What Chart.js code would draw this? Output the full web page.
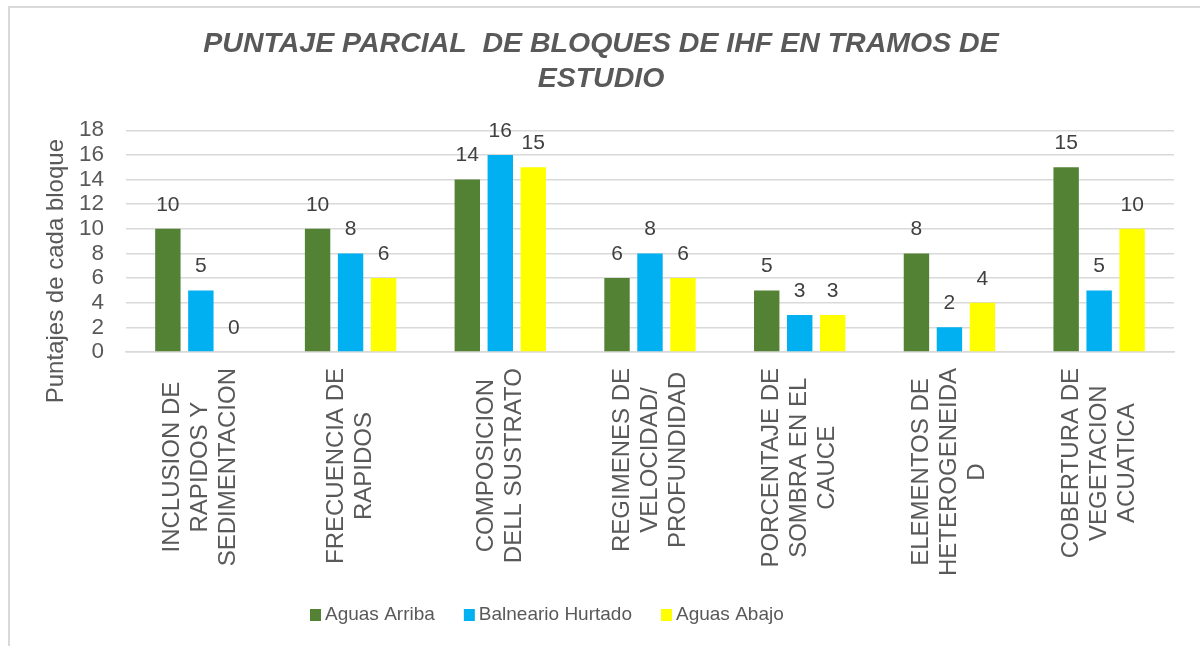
<!DOCTYPE html>
<html><head><meta charset="utf-8">
<script src="https://cdn.jsdelivr.net/npm/chart.js@4.4.1/dist/chart.umd.min.js"></script>
<style>
html,body{margin:0;padding:0;background:#fff;overflow:hidden;width:1200px;height:646px;}
#frame{position:absolute;left:8px;top:6px;width:1300px;height:800px;border:2px solid #d9d9d9;box-sizing:border-box;}
#wrap{position:absolute;left:0;top:0;width:1200px;height:646px;}
</style></head><body>
<div id="frame"></div>
<div id="wrap"><canvas id="c" width="1200" height="646"></canvas></div>
<script>
const categories = [
  ["INCLUSION DE", "RAPIDOS Y", "SEDIMENTACION"],
  ["FRECUENCIA DE", "RAPIDOS"],
  ["COMPOSICION", "DELL SUSTRATO"],
  ["REGIMENES DE", "VELOCIDAD/", "PROFUNDIDAD"],
  ["PORCENTAJE DE", "SOMBRA EN EL", "CAUCE"],
  ["ELEMENTOS DE", "HETEROGENEIDA", "D"],
  ["COBERTURA DE", "VEGETACION", "ACUATICA"]
];
const seriesNames = ["Aguas Arriba", "Balneario Hurtado", "Aguas Abajo"];
const aguasArriba = [10, 10, 14, 6, 5, 8, 15];
const balnearioHurtado = [5, 8, 16, 8, 3, 2, 5];
const aguasAbajo = [0, 6, 15, 6, 3, 4, 10];
const yTickValues = [0, 2, 4, 6, 8, 10, 12, 14, 16, 18];
const titleLines = ["PUNTAJE PARCIAL  DE BLOQUES DE IHF EN TRAMOS DE", "ESTUDIO"];
const yAxisTitle = "Puntajes de cada bloque";
const seriesColors = ["#548235", "#00B0F0", "#FFFF00"];

const FONT = '"Liberation Sans", Arial, Helvetica, sans-serif';
const TEXT = '#595959';

const customDraw = {
  id: 'customDraw',
  afterDatasetsDraw(chart) {
    const ctx = chart.ctx;
    ctx.save();
    // data labels
    ctx.font = '21px ' + FONT;
    ctx.fillStyle = '#404040';
    ctx.textAlign = 'center';
    ctx.textBaseline = 'middle';
    chart.data.datasets.forEach((ds, di) => {
      const meta = chart.getDatasetMeta(di);
      meta.data.forEach((bar, i) => {
        ctx.fillText(String(ds.data[i]), bar.x, bar.y - 24);
      });
    });
    // rotated category labels, lines centered
    const xs = chart.scales.x;
    ctx.font = '24px ' + FONT;
    ctx.fillStyle = TEXT;
    const top = chart.chartArea.bottom + 16;
    categories.forEach((lines, i) => {
      const cx = xs.getPixelForValue(i);
      const maxW = Math.max(...lines.map(l => ctx.measureText(l).width));
      const cy = top + maxW / 2;
      const n = lines.length;
      lines.forEach((line, j) => {
        const lx = cx + (j - (n - 1) / 2) * 28;
        ctx.save();
        ctx.translate(lx, cy);
        ctx.rotate(-Math.PI / 2);
        ctx.fillText(line, 0, 0);
        ctx.restore();
      });
    });
    // legend
    ctx.font = '19px ' + FONT;
    ctx.textAlign = 'left';
    let x = 310;
    const ly = 615;
    chart.data.datasets.forEach((ds) => {
      ctx.fillStyle = ds.backgroundColor;
      ctx.fillRect(x, ly - 6, 11, 12);
      ctx.fillStyle = TEXT;
      ctx.fillText(ds.label, x + 15, ly);
      x += 15 + ctx.measureText(ds.label).width + 29;
    });
    ctx.restore();
  }
};

new Chart(document.getElementById('c'), {
  type: 'bar',
  data: {
    labels: categories,
    datasets: [
      { label: seriesNames[0], data: aguasArriba, backgroundColor: seriesColors[0] },
      { label: seriesNames[1], data: balnearioHurtado, backgroundColor: seriesColors[1] },
      { label: seriesNames[2], data: aguasAbajo, backgroundColor: seriesColors[2] }
    ]
  },
  options: {
    responsive: false,
    animation: false,
    devicePixelRatio: 1,
    categoryPercentage: 0.661,
    barPercentage: 0.77,
    layout: { padding: { left: 28, right: 26, top: 16, bottom: 294 } },
    plugins: {
      legend: { display: false },
      tooltip: { enabled: false },
      title: {
        display: true,
        text: titleLines,
        color: TEXT,
        font: { family: FONT, size: 28.5, weight: 'bold', style: 'italic', lineHeight: 1.25 },
        padding: { top: 10, bottom: 33 }
      }
    },
    scales: {
      x: {
        ticks: { display: false },
        grid: { display: false, drawTicks: false },
        border: { color: '#d9d9d9', width: 1.5 }
      },
      y: {
        min: 0,
        max: 18,
        afterBuildTicks(scale) { scale.ticks = yTickValues.map(v => ({ value: v })); },
        afterFit(scale) { scale.width = 98; },
        ticks: { color: TEXT, font: { family: FONT, size: 22.5 }, padding: 22, autoSkip: false },
        grid: { color: '#d9d9d9', lineWidth: 1.5, drawTicks: false },
        border: { display: false },
        title: {
          display: true,
          text: yAxisTitle + '         ',
          color: TEXT,
          font: { family: FONT, size: 24 },
          padding: { top: 14, bottom: 9 }
        }
      }
    }
  },
  plugins: [customDraw]
});
</script>
</body></html>
